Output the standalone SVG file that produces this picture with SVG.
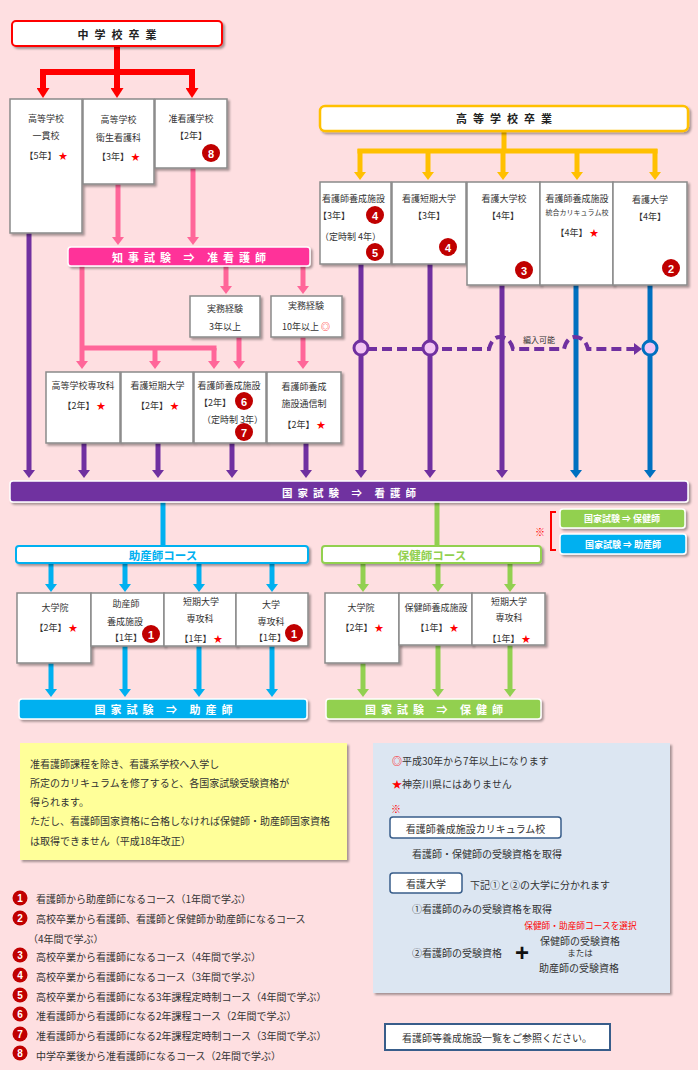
<svg xmlns="http://www.w3.org/2000/svg" width="698" height="1070" viewBox="0 0 698 1070">
<style>
.t{font-family:"Noto Sans CJK JP","Noto Sans",sans-serif;font-size:9px;fill:#333;text-anchor:middle;dominant-baseline:central}
.s{text-anchor:start}
.st{fill:#f00}
.bx{fill:#fff;stroke:#8a8a8a;stroke-width:1.5;filter:url(#sh)}
.bd{fill:#C00000}
.bn{font-family:"Liberation Sans",Arial,sans-serif;font-weight:bold;font-size:11px;fill:#fff;text-anchor:middle;dominant-baseline:central}
.hd{font-family:"Noto Sans CJK JP",sans-serif;font-weight:bold;font-size:11px;fill:#222;text-anchor:middle;dominant-baseline:central;letter-spacing:6px}
.bt{font-family:"Noto Sans CJK JP",sans-serif;font-weight:bold;font-size:11px;fill:#fff;text-anchor:middle;dominant-baseline:central;letter-spacing:5px}
.n{font-size:10px}
.lr{stroke:#f00;stroke-width:6;fill:none}
.ly{stroke:#FFC000;stroke-width:5;fill:none}
.lp{stroke:#FF6699;stroke-width:5;fill:none}
.lv{stroke:#7030A0;stroke-width:5;fill:none}
.lb{stroke:#0070C0;stroke-width:5;fill:none}
.lc{stroke:#00B0F0;stroke-width:5;fill:none}
.lg{stroke:#92D050;stroke-width:5;fill:none}
</style>
<defs>
<filter id="sh" x="-10%" y="-10%" width="130%" height="150%"><feDropShadow dx="2" dy="2" stdDeviation="1" flood-color="#000" flood-opacity="0.35"/></filter>
<marker id="ar" viewBox="0 0 10 13" refX="0" refY="6.5" markerWidth="10" markerHeight="13" markerUnits="userSpaceOnUse" orient="auto"><path d="M0,0L10,6.5L0,13z" fill="#f00"/></marker>
<marker id="ay" viewBox="0 0 8 12" refX="0" refY="6" markerWidth="8" markerHeight="12" markerUnits="userSpaceOnUse" orient="auto"><path d="M0,0L8,6L0,12z" fill="#FFC000"/></marker>
<marker id="ap" viewBox="0 0 8 12" refX="0" refY="6" markerWidth="8" markerHeight="12" markerUnits="userSpaceOnUse" orient="auto"><path d="M0,0L8,6L0,12z" fill="#FF6699"/></marker>
<marker id="av" viewBox="0 0 8 12" refX="0" refY="6" markerWidth="8" markerHeight="12" markerUnits="userSpaceOnUse" orient="auto"><path d="M0,0L8,6L0,12z" fill="#7030A0"/></marker>
<marker id="ab" viewBox="0 0 8 12" refX="0" refY="6" markerWidth="8" markerHeight="12" markerUnits="userSpaceOnUse" orient="auto"><path d="M0,0L8,6L0,12z" fill="#0070C0"/></marker>
<marker id="ac" viewBox="0 0 8 12" refX="0" refY="6" markerWidth="8" markerHeight="12" markerUnits="userSpaceOnUse" orient="auto"><path d="M0,0L8,6L0,12z" fill="#00B0F0"/></marker>
<marker id="ag" viewBox="0 0 8 12" refX="0" refY="6" markerWidth="8" markerHeight="12" markerUnits="userSpaceOnUse" orient="auto"><path d="M0,0L8,6L0,12z" fill="#92D050"/></marker>
</defs>
<rect width="698" height="1070" fill="#FEDFE1"/>

<g id="connectors">
<path class="lr" d="M117,46V72M40,72H195"/>
<line class="lr" x1="43" y1="70" x2="43" y2="88" marker-end="url(#ar)"/>
<line class="lr" x1="117" y1="70" x2="117" y2="88" marker-end="url(#ar)"/>
<line class="lr" x1="192" y1="70" x2="192" y2="88" marker-end="url(#ar)"/>
<path class="ly" d="M504,131V151M357.5,151H657.5"/>
<line class="ly" x1="360" y1="149" x2="360" y2="172" marker-end="url(#ay)"/>
<line class="ly" x1="428" y1="149" x2="428" y2="172" marker-end="url(#ay)"/>
<line class="ly" x1="503" y1="149" x2="503" y2="172" marker-end="url(#ay)"/>
<line class="ly" x1="577" y1="149" x2="577" y2="172" marker-end="url(#ay)"/>
<line class="ly" x1="655" y1="149" x2="655" y2="172" marker-end="url(#ay)"/>
<line class="lp" x1="118" y1="184" x2="118" y2="237" marker-end="url(#ap)"/>
<line class="lp" x1="193" y1="168" x2="193" y2="237" marker-end="url(#ap)"/>
<line class="lp" x1="82" y1="266" x2="82" y2="361" marker-end="url(#ap)"/>
<path class="lp" d="M82,348H216.5"/>
<line class="lp" x1="155" y1="348" x2="155" y2="361" marker-end="url(#ap)"/>
<line class="lp" x1="214" y1="348" x2="214" y2="361" marker-end="url(#ap)"/>
<line class="lp" x1="226" y1="266" x2="226" y2="286" marker-end="url(#ap)"/>
<line class="lp" x1="303" y1="266" x2="303" y2="286" marker-end="url(#ap)"/>
<line class="lp" x1="239" y1="337" x2="239" y2="361" marker-end="url(#ap)"/>
<line class="lp" x1="303" y1="337" x2="303" y2="361" marker-end="url(#ap)"/>
<line class="lv" x1="29" y1="233" x2="29" y2="470" marker-end="url(#av)"/>
<line class="lv" x1="84" y1="443" x2="84" y2="470" marker-end="url(#av)"/>
<line class="lv" x1="158" y1="443" x2="158" y2="470" marker-end="url(#av)"/>
<line class="lv" x1="232" y1="443" x2="232" y2="470" marker-end="url(#av)"/>
<line class="lv" x1="306" y1="443" x2="306" y2="470" marker-end="url(#av)"/>
<line class="lv" x1="361" y1="264" x2="361" y2="470" marker-end="url(#av)"/>
<line class="lv" x1="430" y1="264" x2="430" y2="470" marker-end="url(#av)"/>
<line class="lv" x1="502" y1="285" x2="502" y2="470" marker-end="url(#av)"/>
<line class="lb" x1="576" y1="285" x2="576" y2="470" marker-end="url(#ab)"/>
<line class="lb" x1="650" y1="285" x2="650" y2="470" marker-end="url(#ab)"/>
<path d="M367,349H489Q492,337 500,337Q510,337 513,349H564Q567,337 575,337Q585,337 588,349H634" fill="none" stroke="#7030A0" stroke-width="4" stroke-dasharray="10 5" marker-end="url(#av)"/>
<circle cx="361" cy="348" r="7" fill="#F3C6F3" stroke="#7030A0" stroke-width="3"/>
<circle cx="430" cy="348" r="7" fill="#F3C6F3" stroke="#7030A0" stroke-width="3"/>
<circle cx="650" cy="348" r="7" fill="#F3C6F3" stroke="#0070C0" stroke-width="3"/>
<text class="t" x="539" y="339" style="font-size:8px">編入可能</text>
<line class="lc" x1="163" y1="502" x2="163" y2="546"/>
<line class="lg" x1="437" y1="502" x2="437" y2="546"/>
<line class="lc" x1="51" y1="563" x2="51" y2="584" marker-end="url(#ac)"/>
<line class="lc" x1="125" y1="563" x2="125" y2="584" marker-end="url(#ac)"/>
<line class="lc" x1="199" y1="563" x2="199" y2="584" marker-end="url(#ac)"/>
<line class="lc" x1="272" y1="563" x2="272" y2="584" marker-end="url(#ac)"/>
<line class="lc" x1="51" y1="663" x2="51" y2="689" marker-end="url(#ac)"/>
<line class="lc" x1="125" y1="646" x2="125" y2="689" marker-end="url(#ac)"/>
<line class="lc" x1="199" y1="646" x2="199" y2="689" marker-end="url(#ac)"/>
<line class="lc" x1="272" y1="646" x2="272" y2="689" marker-end="url(#ac)"/>
<line class="lg" x1="363" y1="563" x2="363" y2="584" marker-end="url(#ag)"/>
<line class="lg" x1="438" y1="563" x2="438" y2="584" marker-end="url(#ag)"/>
<line class="lg" x1="510" y1="563" x2="510" y2="584" marker-end="url(#ag)"/>
<line class="lg" x1="363" y1="663" x2="363" y2="689" marker-end="url(#ag)"/>
<line class="lg" x1="438" y1="645" x2="438" y2="689" marker-end="url(#ag)"/>
<line class="lg" x1="510" y1="645" x2="510" y2="689" marker-end="url(#ag)"/>
</g>

<g id="chugaku">
<rect x="12" y="21" width="210" height="25" rx="4" fill="#fff" stroke="#f00" stroke-width="2" filter="url(#sh)"/>
<text class="hd" x="120" y="33.5">中学校卒業</text>
</g>
<g id="kotogakko-ikkan">
<rect class="bx" x="10" y="99" width="72" height="134"/>
<text class="t" x="46" y="118">高等学校</text>
<text class="t" x="46" y="135">一貫校</text>
<text class="t" x="46" y="155">【5年】 <tspan class="st">★</tspan></text>
</g>
<g id="eisei">
<rect class="bx" x="83" y="99" width="71" height="85"/>
<text class="t" x="118.5" y="119">高等学校</text>
<text class="t" x="118.5" y="137">衛生看護科</text>
<text class="t" x="118.5" y="156">【3年】 <tspan class="st">★</tspan></text>
</g>
<g id="junkan-gakko">
<rect class="bx" x="155" y="99" width="72" height="69"/>
<text class="t" x="191" y="118">准看護学校</text>
<text class="t" x="191" y="135">【2年】</text>
<circle class="bd" cx="211" cy="153" r="9"/><text class="bn" x="211" y="153.5">8</text>
</g>
<g id="chiji-shiken">
<rect x="68" y="247" width="242" height="19" rx="3" fill="#FF3399" stroke="#fff" stroke-width="1.5" filter="url(#sh)"/>
<text class="bt" x="191.5" y="256.5">知事試験 ⇒ 准看護師</text>
</g>
<g id="jitsumu3">
<rect class="bx" x="190" y="296" width="70" height="41"/>
<text class="t" x="225" y="308">実務経験</text>
<text class="t" x="225" y="326">3年以上</text>
</g>
<g id="jitsumu10">
<rect class="bx" x="271" y="296" width="71" height="41"/>
<text class="t" x="306" y="305">実務経験</text>
<text class="t" x="306" y="326">10年以上 <tspan class="st">◎</tspan></text>
</g>
<g id="senkoka2">
<rect class="bx" x="46" y="372" width="74" height="71"/>
<text class="t" x="83" y="385">高等学校専攻科</text>
<text class="t" x="84" y="405">【2年】 <tspan class="st">★</tspan></text>
</g>
<g id="tanki2">
<rect class="bx" x="121" y="372" width="72" height="71"/>
<text class="t" x="157.5" y="385">看護短期大学</text>
<text class="t" x="157.5" y="405">【2年】 <tspan class="st">★</tspan></text>
</g>
<g id="yosei2">
<rect class="bx" x="194" y="372" width="72" height="71"/>
<text class="t" x="229" y="385">看護師養成施設</text>
<text class="t s" x="199" y="402">【2年】</text>
<text class="t s" x="202" y="419">（定時制 3年）</text>
<circle class="bd" cx="244" cy="401" r="9"/><text class="bn" x="244" y="401.5">6</text>
<circle class="bd" cx="244" cy="432" r="9"/><text class="bn" x="244" y="432.5">7</text>
</g>
<g id="tsushin">
<rect class="bx" x="267" y="372" width="74" height="71"/>
<text class="t" x="304" y="386">看護師養成</text>
<text class="t" x="304" y="403">施設通信制</text>
<text class="t" x="304" y="424">【2年】 <tspan class="st">★</tspan></text>
</g>

<g id="kotogakko">
<rect x="320" y="106" width="368" height="25" rx="5" fill="#fff" stroke="#FFC000" stroke-width="2.5" filter="url(#sh)"/>
<text class="hd" x="507" y="118">高等学校卒業</text>
</g>
<g id="yosei3">
<rect class="bx" x="320" y="182" width="71" height="82"/>
<text class="t s" x="322" y="198">看護師養成施設</text>
<text class="t s" x="318" y="215">【3年】</text>
<text class="t s" x="320" y="236">（定時制 4年）</text>
<circle class="bd" cx="375" cy="215" r="9"/><text class="bn" x="375" y="215.5">4</text>
<circle class="bd" cx="375" cy="252" r="9"/><text class="bn" x="375" y="252.5">5</text>
</g>
<g id="tanki3">
<rect class="bx" x="392" y="182" width="74" height="82"/>
<text class="t" x="429" y="198">看護短期大学</text>
<text class="t" x="429" y="215">【3年】</text>
<circle class="bd" cx="448" cy="247" r="9"/><text class="bn" x="448" y="247.5">4</text>
</g>
<g id="daigakko">
<rect class="bx" x="467" y="182" width="73" height="103"/>
<text class="t" x="504" y="198">看護大学校</text>
<text class="t" x="503" y="215">【4年】</text>
<circle class="bd" cx="524" cy="270" r="9"/><text class="bn" x="524" y="270.5">3</text>
</g>
<g id="togo">
<rect class="bx" x="540" y="182" width="73" height="103"/>
<text class="t" x="577" y="198">看護師養成施設</text>
<text class="t" x="577" y="212" style="font-size:7px">統合カリキュラム校</text>
<text class="t" x="577" y="232">【4年】 <tspan class="st">★</tspan></text>
</g>
<g id="kango-daigaku">
<rect class="bx" x="613" y="182" width="74" height="103"/>
<text class="t" x="650" y="199">看護大学</text>
<text class="t" x="650" y="216">【4年】</text>
<circle class="bd" cx="671" cy="268" r="9"/><text class="bn" x="671" y="268.5">2</text>
</g>

<g id="kokka-kango">
<rect x="10" y="481" width="678" height="21" rx="3" fill="#7030A0" stroke="#fff" stroke-width="1.5" filter="url(#sh)"/>
<text class="bt" x="351.5" y="492" style="font-size:10.5px">国家試験 ⇒ 看護師</text>
</g>
<g id="josan-course">
<rect x="16" y="546" width="292" height="17" rx="3" fill="#fff" stroke="#00B0F0" stroke-width="2" filter="url(#sh)"/>
<text class="t" x="163" y="554.5" style="font-size:11.5px;font-weight:bold;fill:#00B0F0">助産師コース</text>
</g>
<g id="hoken-course">
<rect x="322" y="546" width="219" height="17" rx="3" fill="#fff" stroke="#92D050" stroke-width="2" filter="url(#sh)"/>
<text class="t" x="432" y="554.5" style="font-size:11.5px;font-weight:bold;fill:#92D050">保健師コース</text>
</g>
<g id="j-daigakuin">
<rect class="bx" x="17" y="593" width="74" height="70"/>
<text class="t" x="55" y="607">大学院</text>
<text class="t" x="56" y="627">【2年】 <tspan class="st">★</tspan></text>
</g>
<g id="j-yosei">
<rect class="bx" x="91" y="593" width="73" height="53"/>
<text class="t" x="126" y="603">助産師</text>
<text class="t" x="125" y="621">養成施設</text>
<text class="t" x="126" y="637">【1年】</text>
<circle class="bd" cx="151" cy="634" r="9"/><text class="bn" x="151" y="634.5">1</text>
</g>
<g id="j-tanki">
<rect class="bx" x="164" y="593" width="72" height="53"/>
<text class="t" x="201" y="601">短期大学</text>
<text class="t" x="200" y="618">専攻科</text>
<text class="t" x="201" y="638">【1年】 <tspan class="st">★</tspan></text>
</g>
<g id="j-daigaku">
<rect class="bx" x="236" y="593" width="72" height="53"/>
<text class="t" x="271" y="604">大学</text>
<text class="t" x="271" y="621">専攻科</text>
<text class="t" x="270" y="637">【1年】</text>
<circle class="bd" cx="294" cy="633" r="9"/><text class="bn" x="294" y="633.5">1</text>
</g>
<g id="h-daigakuin">
<rect class="bx" x="325" y="593" width="74" height="70"/>
<text class="t" x="361" y="607">大学院</text>
<text class="t" x="362" y="627">【2年】 <tspan class="st">★</tspan></text>
</g>
<g id="h-yosei">
<rect class="bx" x="399" y="593" width="73" height="52"/>
<text class="t" x="436" y="607">保健師養成施設</text>
<text class="t" x="437" y="627">【1年】 <tspan class="st">★</tspan></text>
</g>
<g id="h-tanki">
<rect class="bx" x="472" y="593" width="73" height="52"/>
<text class="t" x="509" y="601">短期大学</text>
<text class="t" x="509" y="617">専攻科</text>
<text class="t" x="509" y="638">【1年】 <tspan class="st">★</tspan></text>
</g>
<g id="kokka-josan">
<rect x="19" y="699" width="288" height="20" rx="3" fill="#00B0F0" stroke="#fff" stroke-width="1.5" filter="url(#sh)"/>
<text class="bt" x="166" y="709">国家試験 ⇒ 助産師</text>
</g>
<g id="kokka-hoken">
<rect x="326" y="699" width="215" height="20" rx="3" fill="#92D050" stroke="#fff" stroke-width="1.5" filter="url(#sh)"/>
<text class="bt" x="436.5" y="709">国家試験 ⇒ 保健師</text>
</g>
<g id="side-legend">
<path d="M556,512H551V550H556" fill="none" stroke="#f00" stroke-width="2"/>
<text class="t" x="540" y="531" style="font-size:10px;fill:#f00">※</text>
<rect x="560" y="509" width="125" height="19" rx="3" fill="#92D050" stroke="#fff" stroke-width="1.5" filter="url(#sh)"/>
<text class="t" x="622" y="518.5" style="fill:#fff;font-weight:bold">国家試験 ⇒ 保健師</text>
<rect x="560" y="534" width="126" height="20" rx="3" fill="#00B0F0" stroke="#fff" stroke-width="1.5" filter="url(#sh)"/>
<text class="t" x="623" y="544" style="fill:#fff;font-weight:bold">国家試験 ⇒ 助産師</text>
</g>

<g id="note-yellow">
<rect x="20" y="743" width="327" height="117" fill="#FFFF99" filter="url(#sh)"/>
<text class="t s n" x="30" y="763">准看護師課程を除き、看護系学校へ入学し</text>
<text class="t s n" x="30" y="782">所定のカリキュラムを修了すると、各国家試験受験資格が</text>
<text class="t s n" x="30" y="801">得られます。</text>
<text class="t s n" x="30" y="820">ただし、看護師国家資格に合格しなければ保健師・助産師国家資格</text>
<text class="t s n" x="30" y="840">は取得できません（平成18年改正）</text>
</g>
<g id="note-blue">
<rect x="373" y="743" width="297" height="250" fill="#DCE6F2" filter="url(#sh)"/>
<text class="t s n" x="392" y="760"><tspan class="st">◎</tspan>平成30年から7年以上になります</text>
<text class="t s n" x="392" y="783"><tspan class="st">★</tspan>神奈川県にはありません</text>
<text class="t s n" x="391" y="808" style="fill:#f00">※</text>
<rect x="390" y="817" width="171" height="21" rx="3" fill="#fff" stroke="#385D8A" stroke-width="1.5"/>
<text class="t n" x="475.5" y="828">看護師養成施設カリキュラム校</text>
<text class="t s n" x="412" y="853">看護師・保健師の受験資格を取得</text>
<rect x="390" y="873" width="72" height="20" rx="3" fill="#fff" stroke="#385D8A" stroke-width="1.5"/>
<text class="t n" x="426" y="883">看護大学</text>
<text class="t s n" x="470" y="884">下記①と②の大学に分かれます</text>
<text class="t s n" x="412" y="908">①看護師のみの受験資格を取得</text>
<text class="t" x="580.5" y="925" style="font-size:8.7px;fill:#f00">保健師・助産師コースを選択</text>
<text class="t n" x="580" y="940">保健師の受験資格</text>
<text class="t" x="580" y="952" style="font-size:8.5px">または</text>
<text class="t n" x="579" y="967">助産師の受験資格</text>
<text class="t s n" x="412" y="952">②看護師の受験資格</text>
<text class="t" x="522" y="952" style="font-family:'Liberation Sans',sans-serif;font-size:24px;font-weight:bold;fill:#111">+</text>
</g>
<g id="ichiran">
<rect x="385" y="1024" width="225" height="26" fill="#fff" stroke="#385D8A" stroke-width="2"/>
<text class="t s n" x="402" y="1037.5">看護師等養成施設一覧をご参照ください。</text>
</g>
<g id="course-list">
<circle class="bd" cx="20" cy="898" r="7.5"/><text class="bn" x="20" y="898.5" style="font-size:10px">1</text>
<text class="t s n" x="36" y="898">看護師から助産師になるコース（1年間で学ぶ）</text>
<circle class="bd" cx="20" cy="918" r="7.5"/><text class="bn" x="20" y="918.5" style="font-size:10px">2</text>
<text class="t s n" x="36" y="918">高校卒業から看護師、看護師と保健師か助産師になるコース</text>
<text class="t s n" x="28" y="938">（4年間で学ぶ）</text>
<circle class="bd" cx="20" cy="955" r="7.5"/><text class="bn" x="20" y="955.5" style="font-size:10px">3</text>
<text class="t s n" x="36" y="956">高校卒業から看護師になるコース（4年間で学ぶ）</text>
<circle class="bd" cx="20" cy="975" r="7.5"/><text class="bn" x="20" y="975.5" style="font-size:10px">4</text>
<text class="t s n" x="36" y="976">高校卒業から看護師になるコース（3年間で学ぶ）</text>
<circle class="bd" cx="20" cy="995" r="7.5"/><text class="bn" x="20" y="995.5" style="font-size:10px">5</text>
<text class="t s n" x="36" y="996">高校卒業から看護師になる3年課程定時制コース（4年間で学ぶ）</text>
<circle class="bd" cx="20" cy="1014" r="7.5"/><text class="bn" x="20" y="1014.5" style="font-size:10px">6</text>
<text class="t s n" x="36" y="1015">准看護師から看護師になる2年課程コース（2年間で学ぶ）</text>
<circle class="bd" cx="20" cy="1034" r="7.5"/><text class="bn" x="20" y="1034.5" style="font-size:10px">7</text>
<text class="t s n" x="36" y="1035">准看護師から看護師になる2年課程定時制コース（3年間で学ぶ）</text>
<circle class="bd" cx="20" cy="1053" r="7.5"/><text class="bn" x="20" y="1053.5" style="font-size:10px">8</text>
<text class="t s n" x="36" y="1055">中学卒業後から准看護師になるコース（2年間で学ぶ）</text>
</g>
</svg>
